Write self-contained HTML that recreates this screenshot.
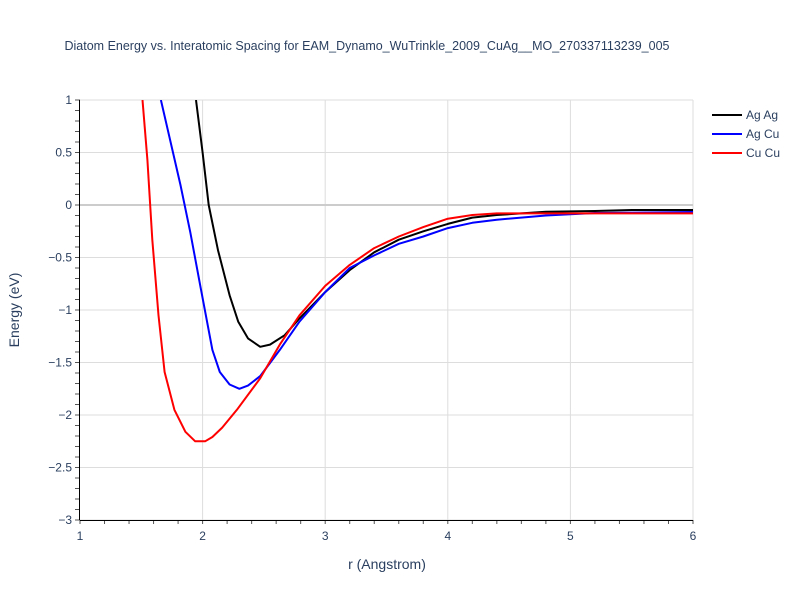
<!DOCTYPE html>
<html><head><meta charset="utf-8"><style>
body{margin:0;background:#fff;font-family:"Liberation Sans",sans-serif}
svg text{font-family:"Liberation Sans",sans-serif}
</style></head><body>
<svg id="chart" width="800" height="600" xmlns="http://www.w3.org/2000/svg">
<rect width="800" height="600" fill="#fff"/>
<defs><clipPath id="clip"><rect x="80" y="100" width="613" height="420"/></clipPath></defs>
<text x="367" y="50" text-anchor="middle" font-size="12.5" fill="#2a3f5f">Diatom Energy vs. Interatomic Spacing for EAM_Dynamo_WuTrinkle_2009_CuAg__MO_270337113239_005</text>
<g id="grid"></g><g id="axes"></g>
<g id="series" clip-path="url(#clip)"></g>
<text x="387" y="569" text-anchor="middle" font-size="14" fill="#2a3f5f">r (Angstrom)</text>
<text transform="translate(19,310) rotate(-90)" text-anchor="middle" font-size="14" fill="#2a3f5f">Energy (eV)</text>
<g id="legend"></g>
</svg>
<script>
const xTicks=[1,2,3,4,5,6];
const yTicks=[1,0.5,0,-0.5,-1,-1.5,-2,-2.5,-3];
const seriesNames=["Ag Ag","Ag Cu","Cu Cu"];
const seriesColors=["#000000","#0000ff","#ff0000"];
const agagR=[1.946,2.0,2.05,2.126,2.22,2.29,2.37,2.47,2.55,2.67,2.79,3.0,3.2,3.4,3.6,3.8,4.0,4.2,4.4,4.8,5.2,5.5,6.0];
const agagE=[1,0.5,0,-0.43,-0.86,-1.11,-1.27,-1.35,-1.33,-1.24,-1.08,-0.83,-0.62,-0.45,-0.33,-0.25,-0.18,-0.12,-0.095,-0.065,-0.057,-0.048,-0.048];
const agcuR=[1.66,1.82,1.9,1.98,2.08,2.14,2.22,2.3,2.37,2.47,2.63,2.79,3.0,3.2,3.4,3.6,3.8,4.0,4.2,4.4,4.8,5.2,6.0];
const agcuE=[1,0.19,-0.26,-0.76,-1.38,-1.59,-1.71,-1.75,-1.72,-1.63,-1.38,-1.11,-0.83,-0.6,-0.48,-0.37,-0.3,-0.22,-0.17,-0.14,-0.1,-0.076,-0.067];
const cucuR=[1.51,1.55,1.59,1.64,1.69,1.77,1.86,1.94,2.02,2.08,2.16,2.28,2.47,2.63,2.79,3.0,3.2,3.4,3.6,3.8,4.0,4.2,4.4,5.2,6.0];
const cucuE=[1,0.43,-0.33,-1.05,-1.59,-1.95,-2.16,-2.25,-2.25,-2.21,-2.12,-1.95,-1.65,-1.33,-1.05,-0.77,-0.57,-0.41,-0.3,-0.21,-0.13,-0.095,-0.08,-0.08,-0.08];
const NS="http://www.w3.org/2000/svg";
const X=r=>80+(r-1)*122.6, Y=e=>205-e*105;
function mk(p,tag,a){const el=document.createElementNS(NS,tag);for(const k in a)el.setAttribute(k,a[k]);document.getElementById(p).appendChild(el);return el;}
xTicks.forEach(t=>{
 if(t>1){const g=mk('grid','line',{x1:X(t),x2:X(t),y1:100,y2:520,stroke:'#ddd'});
 
 }
 const l=mk('axes','text',{x:X(t),y:540,'text-anchor':'middle','font-size':12,fill:'#2a3f5f'});l.textContent=t;
 
 
});
for(let r=1;r<=6.001;r+=0.2){mk('axes','line',{x1:X(r),x2:X(r),y1:520,y2:524,stroke:'#555'});}
yTicks.forEach(t=>{
 const g=mk('grid','line',{x1:80,x2:693,y1:Y(t),y2:Y(t),stroke:t===0?'#ccc':'#ddd','stroke-width':t===0?2:1});
 
 
 const l=mk('axes','text',{x:72,y:Y(t)+4,'text-anchor':'end','font-size':12,fill:'#2a3f5f'});l.textContent=t===0?'0':String(t).replace('-','\u2212');
 
 
});
for(let e=-3;e<=1.001;e+=0.1){mk('axes','line',{x1:75,x2:80,y1:Y(e),y2:Y(e),stroke:'#555'});}
mk('axes','line',{x1:79.5,x2:79.5,y1:100,y2:520,stroke:'#000'});
mk('axes','line',{x1:80,x2:693,y1:520.5,y2:520.5,stroke:'#000'});
const data=[[agagR,agagE],[agcuR,agcuE],[cucuR,cucuE]];
data.forEach((d,i)=>{
 const pts=d[0].map((r,j)=>X(r).toFixed(1)+','+Y(d[1][j]).toFixed(1)).join(' ');
 const p=mk('series','polyline',{points:pts,fill:'none',stroke:seriesColors[i],'stroke-width':2,'stroke-linejoin':'round'});
 
 
 const y=115+i*19;
 const ll=mk('legend','line',{x1:712,x2:742,y1:y,y2:y,stroke:seriesColors[i],'stroke-width':2});
 
 
 const t=mk('legend','text',{x:746,y:y+4,'font-size':12,fill:'#2a3f5f'});t.textContent=seriesNames[i];
 
 
});
</script>
</body></html>
